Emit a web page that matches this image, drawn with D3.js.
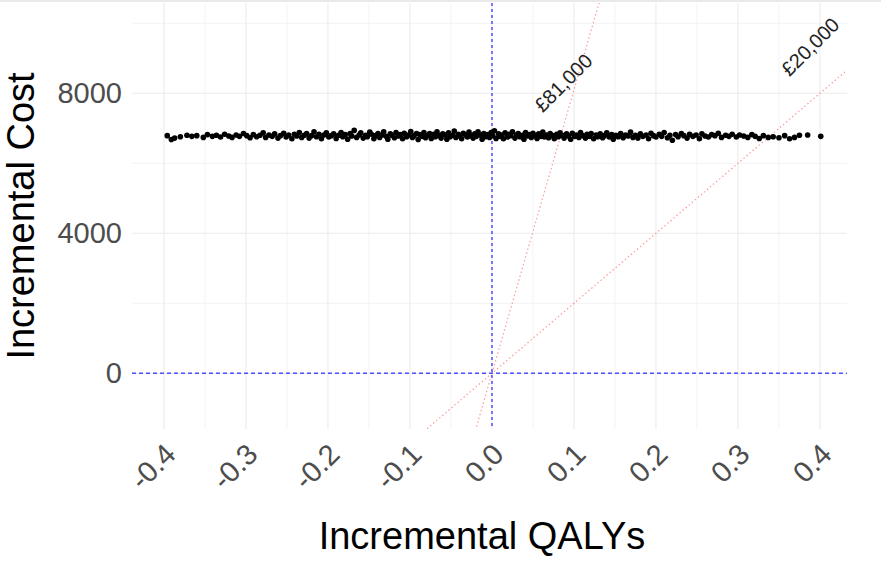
<!DOCTYPE html>
<html>
<head>
<meta charset="utf-8">
<script src="https://d3js.org/d3.v7.min.js"></script>
<style>
  body { margin: 0; background: #fff; }
  svg { display: block; font-family: "Liberation Sans", Arial, sans-serif; }
</style>
</head>
<body>
<svg id="plot"></svg>
<script>
// tick values / labels
var xMajor = [-0.4, -0.3, -0.2, -0.1, 0, 0.1, 0.2, 0.3, 0.4];
var xLabels = ["-0.4", "-0.3", "-0.2", "-0.1", "0.0", "0.1", "0.2", "0.3", "0.4"];
var xMinor = [-0.35, -0.25, -0.15, -0.05, 0.05, 0.15, 0.25, 0.35];
var yMajor = [0, 4000, 8000];
var yMinor = [2000, 6000, 10000];

// willingness-to-pay threshold lines and their labels (label position in data units)
var thresholds = [81000, 20000];
var thresholdLabels = ["£81,000", "£20,000"];
var labelQaly = [0.087, 0.388];
var labelCost = [8300, 9330];

// PSA draws: [incremental QALY, incremental cost]
var psaDraws = [
  [-0.396,6790],[-0.391,6680],[-0.387,6720],[-0.380,6760],[-0.372,6800],[-0.366,6770],
  [-0.360,6790],[-0.352,6740],[-0.347,6820],[-0.341,6770],[-0.336,6800],[-0.331,6750],
  [-0.326,6830],[-0.321,6780],[-0.317,6740],[-0.312,6810],[-0.308,6770],[-0.303,6850],
  [-0.299,6790],[-0.295,6730],[-0.291,6820],[-0.287,6760],[-0.283,6800],[-0.279,6870],
  [-0.276,6740],[-0.272,6810],[-0.268,6770],[-0.265,6840],[-0.261,6720],[-0.258,6790],
  [-0.254,6860],[-0.251,6750],[-0.248,6810],[-0.244,6700],[-0.241,6830],[-0.238,6780],
  [-0.235,6880],[-0.232,6740],[-0.229,6800],[-0.226,6850],[-0.223,6720],[-0.220,6790],
  [-0.217,6900],[-0.214,6760],[-0.211,6830],[-0.208,6700],[-0.205,6810],[-0.202,6870],
  [-0.199,6750],[-0.196,6790],[-0.193,6840],[-0.190,6710],[-0.187,6800],[-0.184,6880],
  [-0.182,6760],[-0.179,6820],[-0.176,6690],[-0.173,6850],[-0.171,6780],[-0.168,6940],
  [-0.165,6740],[-0.162,6810],[-0.160,6870],[-0.157,6720],[-0.154,6800],[-0.152,6760],
  [-0.149,6890],[-0.147,6830],[-0.144,6700],[-0.142,6790],[-0.139,6850],[-0.137,6740],
  [-0.134,6810],[-0.132,6900],[-0.129,6770],[-0.127,6690],[-0.124,6840],[-0.122,6800],
  [-0.119,6730],[-0.117,6880],[-0.114,6780],[-0.112,6820],[-0.109,6700],[-0.107,6860],
  [-0.104,6760],[-0.102,6810],[-0.099,6910],[-0.097,6740],[-0.095,6790],[-0.092,6850],
  [-0.090,6680],[-0.088,6820],[-0.085,6770],[-0.083,6880],[-0.081,6730],[-0.078,6800],
  [-0.076,6850],[-0.074,6710],[-0.071,6830],[-0.069,6760],[-0.067,6900],[-0.064,6790],
  [-0.062,6720],[-0.060,6840],[-0.057,6810],[-0.055,6690],[-0.053,6870],[-0.051,6760],
  [-0.048,6800],[-0.046,6920],[-0.044,6740],[-0.041,6830],[-0.039,6780],[-0.037,6700],
  [-0.035,6860],[-0.032,6810],[-0.030,6750],[-0.028,6890],[-0.026,6790],[-0.023,6720],
  [-0.021,6840],[-0.019,6770],[-0.017,6900],[-0.014,6810],[-0.012,6690],[-0.010,6850],
  [-0.008,6760],[-0.006,6820],[-0.003,6740],[-0.001,6880],[0.001,6790],[0.003,6930],
  [0.005,6710],[0.008,6840],[0.010,6770],[0.012,6810],[0.014,6700],[0.016,6870],
  [0.019,6750],[0.021,6830],[0.023,6790],[0.025,6900],[0.028,6720],[0.030,6810],
  [0.032,6850],[0.034,6760],[0.037,6800],[0.039,6690],[0.041,6880],[0.043,6780],
  [0.046,6820],[0.048,6740],[0.050,6860],[0.053,6790],[0.055,6710],[0.057,6840],
  [0.060,6770],[0.062,6890],[0.064,6750],[0.067,6810],[0.069,6730],[0.071,6850],
  [0.074,6790],[0.076,6700],[0.079,6830],[0.081,6760],[0.083,6870],[0.086,6800],
  [0.088,6720],[0.091,6840],[0.093,6780],[0.096,6690],[0.098,6860],[0.101,6770],
  [0.103,6810],[0.106,6740],[0.108,6880],[0.111,6790],[0.114,6720],[0.116,6830],
  [0.119,6770],[0.121,6850],[0.124,6700],[0.127,6810],[0.129,6760],[0.132,6840],
  [0.135,6730],[0.137,6790],[0.140,6870],[0.143,6750],[0.146,6820],[0.148,6690],
  [0.151,6800],[0.154,6760],[0.157,6850],[0.160,6730],[0.163,6810],[0.166,6780],
  [0.169,6890],[0.172,6740],[0.175,6800],[0.178,6720],[0.181,6840],[0.184,6770],
  [0.188,6810],[0.191,6700],[0.194,6860],[0.197,6790],[0.200,6750],[0.204,6830],
  [0.207,6770],[0.210,6880],[0.214,6730],[0.217,6800],[0.220,6660],[0.224,6820],
  [0.227,6760],[0.231,6850],[0.234,6790],[0.238,6720],[0.241,6830],[0.245,6770],
  [0.249,6810],[0.253,6700],[0.256,6840],[0.260,6780],[0.264,6750],[0.268,6820],
  [0.272,6790],[0.276,6860],[0.280,6740],[0.285,6800],[0.289,6770],[0.293,6830],
  [0.298,6750],[0.302,6810],[0.307,6780],[0.312,6740],[0.317,6820],[0.321,6770],
  [0.326,6710],[0.331,6790],[0.337,6740],[0.343,6760],[0.350,6730],[0.357,6790],
  [0.363,6700],[0.369,6740],[0.375,6800],[0.385,6810],[0.401,6770]
];

var width = 881;
var height = 572;
var panel = {left: 132, right: 847, top: 3, bottom: 429};

var svg = d3.select("#plot")
    .attr("width", width)
    .attr("height", height);

//thin grey border at top of the image
svg.append("rect")
    .attr("x", 0).attr("y", 0)
    .attr("width", width).attr("height", 2)
    .attr("fill", "#e9e9e9");

//scales
var xScale = d3.scaleLinear()
    .domain([-0.439, 0.433])
    .range([panel.left, panel.right]);
var yScale = d3.scaleLinear()
    .domain([-1591, 10580])
    .range([panel.bottom, panel.top]);

svg.append("clipPath").attr("id", "panelClip")
    .append("rect")
    .attr("x", panel.left).attr("y", panel.top)
    .attr("width", panel.right - panel.left)
    .attr("height", panel.bottom - panel.top);

//grid
var grid = svg.append("g");
grid.selectAll(".xminor").data(xMinor).enter().append("line")
    .attr("x1", function(d) { return xScale(d); })
    .attr("x2", function(d) { return xScale(d); })
    .attr("y1", panel.top).attr("y2", panel.bottom)
    .attr("stroke", "#f3f3f3").attr("stroke-width", 1);
grid.selectAll(".yminor").data(yMinor).enter().append("line")
    .attr("x1", panel.left).attr("x2", panel.right)
    .attr("y1", function(d) { return yScale(d); })
    .attr("y2", function(d) { return yScale(d); })
    .attr("stroke", "#f3f3f3").attr("stroke-width", 1);
grid.selectAll(".xmajor").data(xMajor).enter().append("line")
    .attr("x1", function(d) { return xScale(d); })
    .attr("x2", function(d) { return xScale(d); })
    .attr("y1", panel.top).attr("y2", panel.bottom)
    .attr("stroke", "#ebebeb").attr("stroke-width", 1.1);
grid.selectAll(".ymajor").data(yMajor).enter().append("line")
    .attr("x1", panel.left).attr("x2", panel.right)
    .attr("y1", function(d) { return yScale(d); })
    .attr("y2", function(d) { return yScale(d); })
    .attr("stroke", "#ebebeb").attr("stroke-width", 1.1);

//threshold lines
var xd = xScale.domain();
svg.append("g").attr("clip-path", "url(#panelClip)")
    .selectAll("line").data(thresholds).enter().append("line")
    .attr("x1", xScale(xd[0]))
    .attr("x2", xScale(xd[1]))
    .attr("y1", function(w) { return yScale(w * xd[0]); })
    .attr("y2", function(w) { return yScale(w * xd[1]); })
    .attr("stroke", "#ff9a9a")
    .attr("stroke-width", 1.2)
    .attr("stroke-dasharray", "1.5,2.5");

//reference lines at 0
svg.append("line")
    .attr("x1", panel.left).attr("x2", panel.right)
    .attr("y1", yScale(0)).attr("y2", yScale(0))
    .attr("stroke", "#4f4fff").attr("stroke-width", 1.5)
    .attr("stroke-dasharray", "4,3");
svg.append("line")
    .attr("x1", xScale(0)).attr("x2", xScale(0))
    .attr("y1", panel.top).attr("y2", panel.bottom)
    .attr("stroke", "#4f4fff").attr("stroke-width", 1.5)
    .attr("stroke-dasharray", "3,3");

//dots
svg.append("g").selectAll("circle")
    .data(psaDraws).enter().append("circle")
    .attr("cx", function(d) { return xScale(d[0]); })
    .attr("cy", function(d) { return yScale(d[1]); })
    .attr("r", 2.8)
    .attr("fill", "#000");

//threshold labels
svg.append("g").selectAll("text")
    .data(thresholdLabels).enter().append("text")
    .attr("transform", function(d, i) {
        return "translate(" + xScale(labelQaly[i]) + "," + yScale(labelCost[i]) + ") rotate(-45)";
    })
    .attr("text-anchor", "middle")
    .attr("dy", "0.35em")
    .attr("font-size", 20)
    .attr("fill", "#222")
    .text(function(d) { return d; });

//axes
var xAxis = d3.axisBottom(xScale)
    .tickValues(xMajor)
    .tickSize(0)
    .tickFormat(function(d, i) { return xLabels[i]; });
var gx = svg.append("g")
    .attr("transform", "translate(0," + panel.bottom + ")")
    .call(xAxis);
gx.select(".domain").remove();
gx.selectAll("text")
    .attr("x", 0).attr("y", 0).attr("dy", 0)
    .attr("text-anchor", "end")
    .attr("transform", "translate(13,27) rotate(-45)")
    .attr("font-size", 29)
    .attr("font-family", "Liberation Sans, Arial, sans-serif")
    .attr("fill", "#4d4d4d");

var yAxis = d3.axisLeft(yScale)
    .tickValues(yMajor)
    .tickSize(0)
    .tickPadding(10)
    .tickFormat(d3.format("d"));
var gy = svg.append("g")
    .attr("transform", "translate(" + panel.left + ",0)")
    .call(yAxis);
gy.select(".domain").remove();
gy.selectAll("text")
    .attr("font-size", 29)
    .attr("font-family", "Liberation Sans, Arial, sans-serif")
    .attr("fill", "#4d4d4d");

//axis titles
svg.append("text")
    .attr("x", 482).attr("y", 549)
    .attr("text-anchor", "middle")
    .attr("font-size", 38)
    .attr("fill", "#000")
    .text("Incremental QALYs");
svg.append("text")
    .attr("transform", "translate(34,216) rotate(-90)")
    .attr("text-anchor", "middle")
    .attr("font-size", 38)
    .attr("fill", "#000")
    .text("Incremental Cost");
</script>
</body>
</html>
